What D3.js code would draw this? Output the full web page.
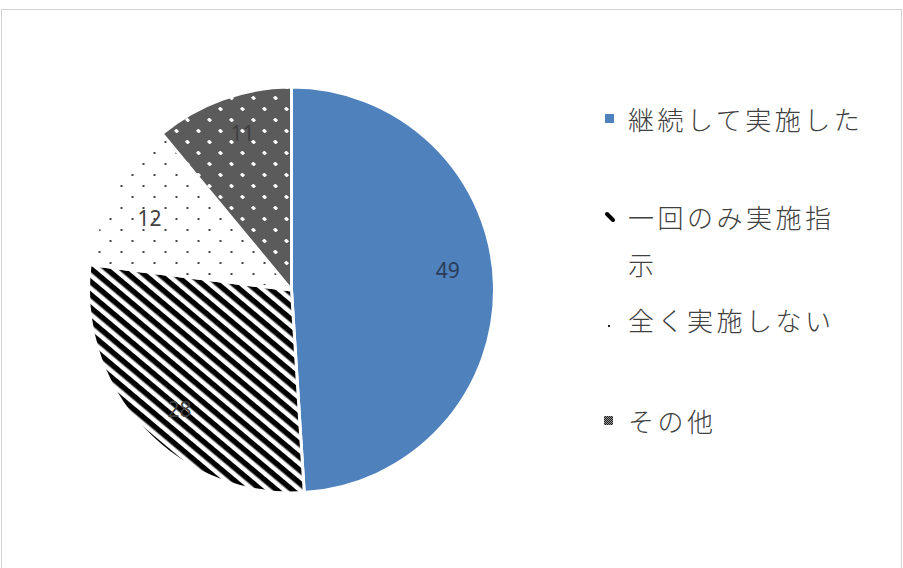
<!DOCTYPE html>
<html>
<head>
<meta charset="utf-8">
<script src="https://cdn.jsdelivr.net/npm/d3@7/dist/d3.min.js"></script>
<style>
  html, body { margin: 0; padding: 0; background: #fff; }
  svg { display: block; }
</style>
</head>
<body>
<script>
// Survey responses: share of respondents (%)
const categories = ["継続して実施した", "一回のみ実施指示", "全く実施しない", "その他"];
const values = [49, 28, 12, 11];
// Legend text as it wraps in the legend box
const legendLines = [["継続して実施した"], ["一回のみ実施指", "示"], ["全く実施しない"], ["その他"]];

const W = 903, H = 568;
const cx = 291.5, cy = 290, R = 203;
// small placement tweaks for the value labels (px)
const labelNudge = [[0, -15], [2, 12], [-5, 3], [4, -10]];

const svg = d3.select("body").append("svg").attr("width", W).attr("height", H);
const defs = svg.append("defs");

// Fill patterns for the slices
// diagonal stripes
const stripes = defs.append("pattern").attr("id", "stripes")
  .attr("patternUnits", "userSpaceOnUse").attr("width", 10).attr("height", 10)
  .attr("patternTransform", "rotate(40)");
stripes.append("rect").attr("width", 10).attr("height", 10).attr("fill", "#fff");
stripes.append("rect").attr("y", 0).attr("width", 10).attr("height", 5.5).attr("fill", "#000");

// sparse dots
const dots = defs.append("pattern").attr("id", "dots")
  .attr("patternUnits", "userSpaceOnUse").attr("width", 22).attr("height", 22);
dots.append("rect").attr("width", 22).attr("height", 22).attr("fill", "#fff");
[[5, 5], [16, 16]].forEach(([x, y]) =>
  dots.append("rect").attr("x", x).attr("y", y).attr("width", 2).attr("height", 2).attr("fill", "#444"));

// fine checker with white crosses
const chk = defs.append("pattern").attr("id", "chk")
  .attr("patternUnits", "userSpaceOnUse").attr("width", 2).attr("height", 2);
chk.append("rect").attr("width", 2).attr("height", 2).attr("fill", "#1c1c1c");
chk.append("rect").attr("width", 1).attr("height", 1).attr("fill", "#9a9a9a");
chk.append("rect").attr("x", 1).attr("y", 1).attr("width", 1).attr("height", 1).attr("fill", "#9a9a9a");

const misc = defs.append("pattern").attr("id", "misc")
  .attr("patternUnits", "userSpaceOnUse").attr("width", 22).attr("height", 22);
misc.append("rect").attr("width", 22).attr("height", 22).attr("fill", "url(#chk)");
[[5, 5], [16, 16]].forEach(([x, y]) => {
  misc.append("rect").attr("x", x - 1).attr("y", y).attr("width", 4).attr("height", 2).attr("fill", "#fff");
  misc.append("rect").attr("x", x).attr("y", y - 1).attr("width", 2).attr("height", 4).attr("fill", "#fff");
});

const fills = ["#4f81bd", "url(#stripes)", "url(#dots)", "url(#misc)"];
const color = d3.scaleOrdinal().domain(categories).range(fills);

// chart frame
svg.append("rect").attr("x", 1.5).attr("y", 9.5).attr("width", W - 3).attr("height", H - 8)
  .attr("fill", "#fff").attr("stroke", "#d2d2d2").attr("stroke-width", 1);

const pie = d3.pie().sort(null).value(d => d.value);
const data = pie(categories.map((c, i) => ({ name: c, value: values[i] })));

const arc = d3.arc().innerRadius(0).outerRadius(R);
const labelArc = d3.arc().innerRadius(R * 0.77).outerRadius(R * 0.77);

const g = svg.append("g").attr("transform", `translate(${cx},${cy})`);

g.selectAll("path.slice").data(data).join("path")
  .attr("class", "slice")
  .attr("d", arc)
  .attr("fill", d => color(d.data.name))
  .attr("stroke", "#fff")
  .attr("stroke-width", 3)
  .attr("stroke-linejoin", "round");

g.selectAll("text.val").data(data).join("text")
  .attr("class", "val")
  .attr("transform", (d, i) => {
    const [x, y] = labelArc.centroid(d);
    return `translate(${x + labelNudge[i][0]},${y + labelNudge[i][1]})`;
  })
  .attr("text-anchor", "middle")
  .attr("dominant-baseline", "central")
  .attr("font-family", "'Noto Sans', 'DejaVu Sans', sans-serif")
  .attr("font-size", 21)
  .attr("fill", (d, i) => i === 0 ? "#2c3c58" : "#404040")
  .text(d => d.data.value);

// Legend
const legendFont = "'Noto Sans CJK JP', 'Noto Sans', sans-serif";
const legendY = [118, 216, 319, 420];
const lineGap = 47;
const lg = svg.append("g");

categories.forEach((c, i) => {
  const y = legendY[i];
  const item = lg.append("g");
  // marker
  if (i === 0) {
    item.append("rect").attr("x", 605).attr("y", y - 4).attr("width", 9).attr("height", 9).attr("fill", fills[0]);
  } else if (i === 1) {
    item.append("line").attr("x1", 607).attr("y1", y - 2).attr("x2", 613).attr("y2", y + 4)
      .attr("stroke", "#000").attr("stroke-width", 4).attr("stroke-linecap", "round");
  } else if (i === 2) {
    item.append("rect").attr("x", 608).attr("y", y + 6).attr("width", 2).attr("height", 2).attr("fill", "#222");
  } else {
    item.append("rect").attr("x", 604).attr("y", y - 4).attr("width", 9).attr("height", 9).attr("fill", fills[3]);
  }
  legendLines[i].forEach((line, j) => {
    item.append("text")
      .attr("x", 628)
      .attr("y", y + j * lineGap)
      .attr("dominant-baseline", "central")
      .attr("font-family", legendFont)
      .attr("font-size", 26)
      .attr("font-weight", 300)
      .attr("letter-spacing", 3.5)
      .attr("fill", "#404040")
      .text(line);
  });
});
</script>
</body>
</html>
